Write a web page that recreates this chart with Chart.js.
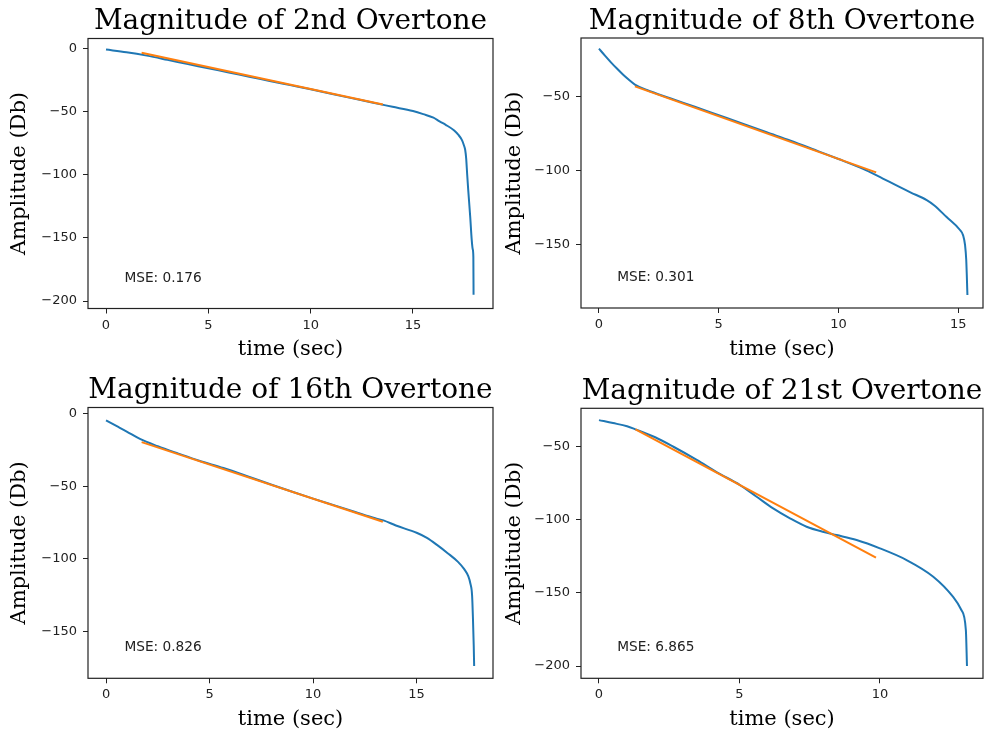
<!DOCTYPE html>
<html>
<head>
<meta charset="utf-8">
<script src="https://cdn.jsdelivr.net/npm/chart.js@4.4.1/dist/chart.umd.min.js"></script>
<style>
  html, body { margin: 0; padding: 0; background: #fff; }
  #wrap { position: relative; width: 984px; height: 736px; overflow: hidden; }
  #wrap canvas { position: absolute; }
</style>
</head>
<body>
<div id="wrap"></div>
<script>
// ---- datos ----
const titles = ["Magnitude of 2nd Overtone", "Magnitude of 8th Overtone",
                "Magnitude of 16th Overtone", "Magnitude of 21st Overtone"];
const mseLabels = ["MSE: 0.176", "MSE: 0.301", "MSE: 0.826", "MSE: 6.865"];

// 2nd overtone
const time2 = [0, 1, 2, 3, 4, 5, 6, 7, 8, 9, 10, 11, 12, 13, 14, 15, 15.5, 16, 16.3, 16.6, 17, 17.2, 17.4, 17.5, 17.55, 17.6, 17.65, 17.7, 17.8, 17.87, 17.92, 17.95, 17.96];
const amp2  = [-0.5, -2.6, -5.3, -8.6, -12, -15.3, -18.7, -22, -25.4, -28.7, -32, -35.5, -39, -42.5, -45.9, -49.3, -51.7, -54.5, -57.5, -60.2, -64.5, -67.8, -72.5, -77, -80, -87, -100, -112, -134, -151.5, -159, -165, -195];
const fitTime2 = [1.74, 13.53];
const fitAmp2  = [-3.0, -44.0];

// 8th overtone
const time8 = [0, 0.25, 0.5, 0.75, 1, 1.25, 1.5, 2, 3, 4, 5, 6, 7, 8, 9, 10, 11, 11.65, 12.5, 13, 13.68, 14, 14.5, 15.07, 15.2, 15.28, 15.33, 15.38];
const amp8  = [-17.6, -22.3, -26.8, -31, -35, -38.6, -41.8, -45.5, -51.2, -56.8, -62.5, -68.2, -74, -79.7, -85.8, -92, -98.5, -103.5, -110.5, -114.5, -119.7, -123.3, -131, -139.9, -143.5, -150, -160, -183.7];
const fitTime8 = [1.5, 11.57];
const fitAmp8  = [-43, -101];

// 16th overtone
const time16 = [0, 0.5, 1, 1.64, 2.5, 3.5, 4.5, 5.67, 7, 8, 9, 10, 11, 12, 13, 13.4, 14, 15, 15.5, 16, 16.5, 17, 17.3, 17.5, 17.6, 17.68, 17.72, 17.76, 17.78];
const amp16  = [-4.8, -8.6, -12.4, -17.5, -22.5, -27.6, -32.5, -37.5, -44, -49, -53.8, -58.5, -63, -67.5, -72, -73.5, -77, -82, -85.5, -90.5, -96, -102, -107, -112, -117, -125, -140, -160, -173.5];
const fitTime16 = [1.72, 13.37];
const fitAmp16  = [-19.7, -74.4];

// 21st overtone
const time21 = [0, 0.5, 1, 1.3, 2, 2.65, 3.48, 4.2, 5.02, 5.6, 6.2, 6.8, 7.39, 8, 8.46, 9.17, 10, 10.95, 11.9, 12.6, 12.9, 13.06, 13.1];
const amp21  = [-31.8, -33.8, -36, -38.1, -43.5, -50, -59, -67.5, -76.2, -84, -92.2, -99, -104.7, -108.3, -110.4, -113.8, -119.5, -127.5, -138.9, -152.6, -161.7, -175.4, -200];
const fitTime21 = [1.3, 9.86];
const fitAmp21  = [-38.1, -125.9];

// ticks
const xTicks2 = [0, 5, 10, 15];
const yTicks2 = [0, -50, -100, -150, -200];
const xTicks8 = [0, 5, 10, 15];
const yTicks8 = [-50, -100, -150];
const xTicks16 = [0, 5, 10, 15];
const yTicks16 = [0, -50, -100, -150];
const xTicks21 = [0, 5, 10];
const yTicks21 = [-50, -100, -150, -200];

// ---- layout de cada panel (px absolutos) ----
const panels = [
  { title: titles[0], mse: mseLabels[0], time: time2, amp: amp2, fitTime: fitTime2, fitAmp: fitAmp2, xTicks: xTicks2, yTicks: yTicks2,
    canvas: { left: 0, top: 0, w: 496, h: 368 }, area: { left: 88, top: 38.5, right: 493, bottom: 308.5 },
    xRange: [-0.88, 18.91], yRange: [-205.95, 8.3], yTitleX: 20 },
  { title: titles[1], mse: mseLabels[1], time: time8, amp: amp8, fitTime: fitTime8, fitAmp: fitAmp8, xTicks: xTicks8, yTicks: yTicks8,
    canvas: { left: 496, top: 0, w: 488, h: 368 }, area: { left: 581, top: 38, right: 983, bottom: 308 },
    xRange: [-0.75, 16.03], yRange: [-192.5, -10.4], yTitleX: 18.5 },
  { title: titles[2], mse: mseLabels[2], time: time16, amp: amp16, fitTime: fitTime16, fitAmp: fitAmp16, xTicks: xTicks16, yTicks: yTicks16,
    canvas: { left: 0, top: 368, w: 496, h: 368 }, area: { left: 88, top: 407.5, right: 493, bottom: 678.3 },
    xRange: [-0.87, 18.69], yRange: [-182, 4.1], yTitleX: 20 },
  { title: titles[3], mse: mseLabels[3], time: time21, amp: amp21, fitTime: fitTime21, fitAmp: fitAmp21, xTicks: xTicks21, yTicks: yTicks21,
    canvas: { left: 496, top: 368, w: 488, h: 368 }, area: { left: 581, top: 408.3, right: 983, bottom: 678.3 },
    xRange: [-0.64, 13.67], yRange: [-208.4, -23.7], yTitleX: 18.5 }
];

const BLUE = "#1f77b4";
const ORANGE = "#ff7f0e";
const SERIF = "'DejaVu Serif', serif";
const SANS = "'DejaVu Sans', sans-serif";
const X_AXIS_H = 55;

// marco de los ejes (las 4 spines)
const framePlugin = {
  id: "frame",
  afterDraw(chart) {
    const { ctx, chartArea: a } = chart;
    ctx.save();
    ctx.strokeStyle = "#222";
    ctx.lineWidth = 1.2;
    ctx.strokeRect(a.left, a.top, a.right - a.left, a.bottom - a.top);
    ctx.restore();
  }
};

// titulo centrado sobre el area de ejes (como matplotlib), y texto MSE en (0.09, 0.1)
const textPlugin = {
  id: "panelText",
  afterDraw(chart, args, opts) {
    const { ctx, chartArea: a } = chart;
    ctx.save();
    ctx.fillStyle = "#000";
    ctx.textAlign = "center";
    ctx.textBaseline = "alphabetic";
    ctx.font = "28px " + SERIF;
    ctx.fillText(opts.title, (a.left + a.right) / 2, a.top - 9.5);

    ctx.font = "13.7px " + SANS;
    ctx.fillStyle = "#222";
    ctx.textAlign = "left";
    ctx.fillText(opts.mse, a.left + 0.09 * (a.right - a.left), a.bottom - 0.1 * (a.bottom - a.top));
    ctx.restore();
  }
};

const minus = v => String(v).replace("-", "\u2212");

function makeChart(p) {
  const cv = document.createElement("canvas");
  cv.width = p.canvas.w;
  cv.height = p.canvas.h;
  cv.style.left = p.canvas.left + "px";
  cv.style.top = p.canvas.top + "px";
  cv.style.width = p.canvas.w + "px";
  cv.style.height = p.canvas.h + "px";
  document.getElementById("wrap").appendChild(cv);

  const ax = {
    left: p.area.left - p.canvas.left,
    top: p.area.top - p.canvas.top,
    right: p.area.right - p.canvas.left,
    bottom: p.area.bottom - p.canvas.top
  };

  return new Chart(cv.getContext("2d"), {
    type: "scatter",
    data: {
      datasets: [
        {
          label: "fit",
          data: p.fitTime.map((t, i) => ({ x: t, y: p.fitAmp[i] })),
          showLine: true, borderColor: ORANGE, backgroundColor: ORANGE,
          borderWidth: 2, pointRadius: 0, order: 0
        },
        {
          label: "measured",
          data: p.time.map((t, i) => ({ x: t, y: p.amp[i] })),
          showLine: true, borderColor: BLUE, backgroundColor: BLUE,
          borderWidth: 2, pointRadius: 0, cubicInterpolationMode: "monotone", order: 1
        }
      ]
    },
    options: {
      responsive: false,
      animation: false,
      devicePixelRatio: 1,
      layout: {
        padding: {
          left: 0,
          top: ax.top,
          right: p.canvas.w - ax.right,
          bottom: p.canvas.h - ax.bottom - X_AXIS_H
        }
      },
      plugins: {
        legend: { display: false },
        tooltip: { enabled: false },
        title: { display: false },
        panelText: { title: p.title, mse: p.mse }
      },
      scales: {
        x: {
          type: "linear", min: p.xRange[0], max: p.xRange[1],
          afterBuildTicks: s => { s.ticks = p.xTicks.map(v => ({ value: v })); },
          afterFit: s => { s.height = X_AXIS_H; },
          border: { display: false },
          grid: { drawOnChartArea: false, drawTicks: true, tickLength: 5, color: "#222", tickColor: "#222" },
          ticks: { color: "#222", font: { family: SANS, size: 13 }, padding: 4, maxRotation: 0, autoSkip: false, callback: minus },
          title: { display: true, text: "time (sec)", color: "#000", font: { family: SERIF, size: 21 }, padding: { top: 0, bottom: 1 } }
        },
        y: {
          type: "linear", min: p.yRange[0], max: p.yRange[1],
          afterBuildTicks: s => { s.ticks = p.yTicks.map(v => ({ value: v })); },
          afterFit: s => { s.width = ax.left; },
          border: { display: false },
          grid: { drawOnChartArea: false, drawTicks: true, tickLength: 5, color: "#222", tickColor: "#222" },
          ticks: { color: "#222", font: { family: SANS, size: 13 }, padding: 6, autoSkip: false, callback: minus },
          title: { display: true, text: "Amplitude (Db)", color: "#000", font: { family: SERIF, size: 21 }, padding: { top: p.yTitleX - 12.6, bottom: 0 } }
        }
      }
    },
    plugins: [framePlugin, textPlugin]
  });
}

panels.forEach(makeChart);
</script>
</body>
</html>
